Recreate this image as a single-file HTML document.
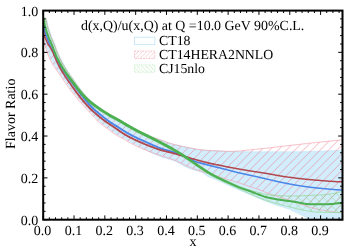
<!DOCTYPE html>
<html><head><meta charset="utf-8"><title>d/u ratio</title>
<style>html,body{margin:0;padding:0;background:#fff;}body{width:357px;height:250px;overflow:hidden;font-family:"Liberation Serif",serif;}svg{display:block;}</style>
</head><body>
<svg width="357" height="250" viewBox="0 0 357 250" style="will-change:transform;text-rendering:geometricPrecision">
<defs>
<pattern id="hr" width="8.4" height="8.4" patternUnits="userSpaceOnUse" patternTransform="translate(8.2,0)"><path d="M-1,9.4 L9.4,-1 M-1,1 L1,-1 M7.4,9.4 L9.4,7.4" stroke="#ec7088" stroke-width="0.55" fill="none"/></pattern>
<pattern id="hg" width="8.4" height="8.4" patternUnits="userSpaceOnUse"><path d="M-1,9.4 L9.4,-1 M-1,-1 L9.4,9.4" stroke="#8fd68f" stroke-width="0.55" fill="none"/></pattern>
<pattern id="lr" width="4.2" height="4.2" patternUnits="userSpaceOnUse" patternTransform="translate(1,0)"><path d="M-1,5.2 L5.2,-1 M-1,1 L1,-1 M3.2,5.2 L5.2,3.2" stroke="#f7b5c0" stroke-width="0.6" fill="none"/></pattern>
<pattern id="lg" width="4.2" height="4.2" patternUnits="userSpaceOnUse"><path d="M-1,-1 L5.2,5.2 M3.2,-1 L5.2,1 M-1,3.2 L1,5.2" stroke="#bfe9bf" stroke-width="0.6" fill="none"/><path d="M-1,5.2 L5.2,-1" stroke="#e2f6e2" stroke-width="0.5" fill="none"/></pattern>
<clipPath id="cp"><rect x="43.2" y="10.6" width="299.3" height="209.1"/></clipPath>
</defs>
<rect width="100%" height="100%" fill="#fff"/>
<g clip-path="url(#cp)">
<path d="M43.4,18.0 L44.6,18.0 L45.7,18.0 L46.9,20.2 L48.0,25.6 L49.2,29.8 L50.4,33.2 L51.5,36.3 L52.7,39.2 L53.8,41.8 L55.0,44.6 L56.1,47.7 L57.3,50.7 L58.5,53.5 L59.6,56.2 L60.8,58.7 L61.9,60.9 L63.1,63.1 L64.3,65.1 L65.4,67.1 L66.6,69.0 L67.7,70.8 L68.9,72.6 L70.0,74.3 L71.2,76.0 L72.4,77.6 L73.5,79.3 L74.7,81.0 L75.8,82.7 L77.0,84.3 L78.2,85.9 L79.3,87.5 L80.5,89.0 L81.6,90.5 L82.8,91.9 L84.0,93.4 L85.1,94.7 L86.3,96.0 L87.4,97.3 L88.6,98.5 L89.7,99.6 L90.9,100.7 L92.1,101.7 L93.2,102.6 L94.4,103.6 L95.5,104.5 L96.7,105.4 L97.9,106.3 L99.0,107.1 L100.2,107.9 L101.3,108.8 L102.5,109.6 L103.7,110.3 L104.8,111.1 L106.0,111.9 L107.1,112.6 L108.3,113.3 L109.4,114.0 L110.6,114.7 L111.8,115.4 L112.9,116.0 L114.1,116.6 L115.2,117.3 L116.4,117.9 L117.6,118.5 L118.7,119.1 L119.9,119.8 L121.0,120.4 L122.2,121.1 L123.3,121.8 L124.5,122.5 L125.7,123.2 L126.8,123.9 L128.0,124.6 L129.1,125.2 L130.3,125.9 L131.5,126.6 L132.6,127.2 L133.8,127.9 L134.9,128.5 L136.1,129.1 L137.3,129.7 L138.4,130.3 L139.6,130.9 L140.7,131.6 L141.9,132.2 L143.0,132.7 L144.2,133.3 L145.4,133.9 L146.5,134.4 L147.7,134.9 L148.8,135.4 L150.0,135.9 L151.2,136.4 L152.3,136.8 L153.5,137.3 L154.6,137.7 L155.8,138.2 L157.0,138.6 L158.1,139.0 L159.3,139.4 L160.4,139.8 L161.6,140.3 L162.7,140.7 L163.9,141.1 L165.1,141.5 L166.2,142.0 L167.4,142.4 L168.5,142.8 L169.7,143.2 L170.9,143.5 L172.0,143.9 L173.2,144.2 L174.3,144.5 L175.5,144.8 L176.6,145.1 L177.8,145.3 L179.0,145.6 L180.1,145.9 L181.3,146.1 L182.4,146.4 L183.6,146.6 L184.8,146.8 L185.9,147.1 L187.1,147.3 L188.2,147.6 L189.4,147.8 L190.6,148.0 L191.7,148.2 L192.9,148.5 L194.0,148.7 L195.2,148.9 L196.3,149.1 L197.5,149.3 L198.7,149.5 L199.8,149.6 L201.0,149.8 L202.1,149.9 L203.3,150.0 L204.5,150.2 L205.6,150.3 L206.8,150.4 L207.9,150.5 L209.1,150.5 L210.3,150.6 L211.4,150.6 L212.6,150.7 L213.7,150.7 L214.9,150.8 L216.0,150.8 L217.2,150.9 L218.4,150.9 L219.5,151.0 L220.7,151.0 L221.8,151.1 L223.0,151.1 L224.2,151.2 L225.3,151.2 L226.5,151.3 L227.6,151.3 L228.8,151.4 L229.9,151.4 L231.1,151.4 L232.3,151.5 L233.4,151.5 L234.6,151.6 L235.7,151.6 L236.9,151.6 L238.1,151.7 L239.2,151.7 L240.4,151.7 L241.5,151.7 L242.7,151.7 L243.9,151.7 L245.0,151.7 L246.2,151.7 L247.3,151.7 L248.5,151.7 L249.6,151.7 L250.8,151.7 L252.0,151.7 L253.1,151.8 L254.3,151.8 L255.4,151.8 L256.6,151.8 L257.8,151.8 L258.9,151.8 L260.1,151.8 L261.2,151.8 L262.4,151.8 L263.6,151.8 L264.7,151.8 L265.9,151.8 L267.0,151.8 L268.2,151.8 L269.3,151.8 L270.5,151.8 L271.7,151.8 L272.8,151.8 L274.0,151.8 L275.1,151.8 L276.3,151.8 L277.5,151.8 L278.6,151.8 L279.8,151.8 L280.9,151.8 L282.1,151.8 L283.2,151.8 L284.4,151.8 L285.6,151.8 L286.7,151.8 L287.9,151.8 L289.0,151.8 L290.2,151.8 L291.4,151.8 L292.5,151.8 L293.7,151.8 L294.8,151.8 L296.0,151.8 L297.2,151.8 L298.3,151.7 L299.5,151.7 L300.6,151.7 L301.8,151.7 L302.9,151.7 L304.1,151.7 L305.3,151.6 L306.4,151.6 L307.6,151.6 L308.7,151.5 L309.9,151.5 L311.1,151.5 L312.2,151.5 L313.4,151.4 L314.5,151.4 L315.7,151.3 L316.9,151.3 L318.0,151.3 L319.2,151.2 L320.3,151.2 L321.5,151.1 L322.6,151.1 L323.8,151.1 L325.0,151.0 L326.1,151.0 L327.3,150.9 L328.4,150.9 L329.6,150.8 L330.8,150.8 L331.9,150.7 L333.1,150.7 L334.2,150.6 L335.4,150.6 L336.5,150.5 L337.7,150.5 L338.9,150.4 L340.0,150.4 L341.2,150.3 L342.3,150.3 L343.5,150.2 L343.5,234.0 L342.3,233.6 L341.2,233.2 L340.0,232.7 L338.9,232.3 L337.7,231.8 L336.6,231.4 L335.4,230.9 L334.3,230.5 L333.1,230.0 L331.9,229.5 L330.8,229.0 L329.6,228.5 L328.5,228.0 L327.3,227.5 L326.2,227.0 L325.0,226.5 L323.9,226.0 L322.7,225.5 L321.6,225.0 L320.4,224.4 L319.2,223.9 L318.1,223.4 L316.9,222.8 L315.8,222.3 L314.6,221.7 L313.5,221.2 L312.3,220.6 L311.2,220.1 L310.0,219.5 L308.8,218.9 L307.7,218.3 L306.5,217.7 L305.4,217.1 L304.2,216.4 L303.1,215.8 L301.9,215.3 L300.8,214.7 L299.6,214.1 L298.4,213.6 L297.3,213.1 L296.1,212.5 L295.0,212.0 L293.8,211.4 L292.7,210.8 L291.5,210.2 L290.4,209.7 L289.2,209.1 L288.0,208.7 L286.9,208.3 L285.7,207.9 L284.6,207.6 L283.4,207.3 L282.3,206.9 L281.1,206.6 L280.0,206.3 L278.8,205.9 L277.7,205.6 L276.5,205.2 L275.3,204.8 L274.2,204.4 L273.0,203.9 L271.9,203.5 L270.7,203.1 L269.6,202.6 L268.4,202.2 L267.3,201.7 L266.1,201.3 L264.9,200.8 L263.8,200.4 L262.6,199.9 L261.5,199.4 L260.3,199.0 L259.2,198.5 L258.0,198.0 L256.9,197.6 L255.7,197.1 L254.5,196.6 L253.4,196.1 L252.2,195.6 L251.1,195.2 L249.9,194.7 L248.8,194.2 L247.6,193.7 L246.5,193.2 L245.3,192.7 L244.2,192.2 L243.0,191.7 L241.8,191.2 L240.7,190.7 L239.5,190.2 L238.4,189.7 L237.2,189.2 L236.1,188.7 L234.9,188.2 L233.8,187.7 L232.6,187.2 L231.4,186.6 L230.3,186.1 L229.1,185.6 L228.0,185.1 L226.8,184.6 L225.7,184.0 L224.5,183.5 L223.4,182.9 L222.2,182.4 L221.0,181.8 L219.9,181.3 L218.7,180.8 L217.6,180.3 L216.4,179.8 L215.3,179.3 L214.1,178.9 L213.0,178.5 L211.8,178.1 L210.7,177.7 L209.5,177.2 L208.3,176.7 L207.2,176.0 L206.0,175.2 L204.9,174.4 L203.7,173.6 L202.6,172.9 L201.4,172.2 L200.3,171.7 L199.1,171.3 L197.9,171.1 L196.8,170.8 L195.6,170.6 L194.5,170.2 L193.3,169.9 L192.2,169.5 L191.0,169.1 L189.9,168.6 L188.7,168.2 L187.5,167.7 L186.4,167.2 L185.2,166.7 L184.1,166.2 L182.9,165.6 L181.8,164.9 L180.6,164.2 L179.5,163.5 L178.3,162.9 L177.1,162.2 L176.0,161.6 L174.8,161.1 L173.7,160.7 L172.5,160.3 L171.4,159.9 L170.2,159.6 L169.1,159.2 L167.9,158.9 L166.8,158.6 L165.6,158.2 L164.4,157.9 L163.3,157.5 L162.1,157.1 L161.0,156.7 L159.8,156.3 L158.7,155.8 L157.5,155.3 L156.4,154.8 L155.2,154.3 L154.0,153.8 L152.9,153.3 L151.7,152.8 L150.6,152.2 L149.4,151.7 L148.3,151.1 L147.1,150.5 L146.0,149.9 L144.8,149.3 L143.6,148.7 L142.5,148.1 L141.3,147.5 L140.2,146.9 L139.0,146.3 L137.9,145.7 L136.7,145.1 L135.6,144.5 L134.4,143.9 L133.3,143.3 L132.1,142.6 L130.9,142.0 L129.8,141.3 L128.6,140.6 L127.5,140.0 L126.3,139.3 L125.2,138.6 L124.0,138.0 L122.9,137.4 L121.7,136.8 L120.5,136.2 L119.4,135.5 L118.2,134.8 L117.1,134.1 L115.9,133.4 L114.8,132.6 L113.6,131.9 L112.5,131.0 L111.3,130.2 L110.1,129.4 L109.0,128.5 L107.8,127.6 L106.7,126.8 L105.5,125.9 L104.4,125.0 L103.2,124.2 L102.1,123.3 L100.9,122.4 L99.8,121.4 L98.6,120.3 L97.4,119.1 L96.3,117.9 L95.1,116.6 L94.0,115.4 L92.8,114.1 L91.7,112.8 L90.5,111.6 L89.4,110.3 L88.2,109.1 L87.0,107.8 L85.9,106.6 L84.7,105.3 L83.6,104.0 L82.4,102.7 L81.3,101.4 L80.1,100.1 L79.0,98.8 L77.8,97.4 L76.6,96.1 L75.5,94.6 L74.3,93.2 L73.2,91.7 L72.0,90.2 L70.9,88.6 L69.7,86.9 L68.6,85.3 L67.4,83.7 L66.2,82.0 L65.1,80.4 L63.9,78.8 L62.8,77.1 L61.6,75.4 L60.5,73.7 L59.3,72.1 L58.2,70.5 L57.0,68.8 L55.9,67.2 L54.7,65.4 L53.5,63.6 L52.4,61.5 L51.2,59.3 L50.1,56.8 L48.9,54.0 L47.8,50.8 L46.6,47.3 L45.5,43.0 L44.3,36.7 Z" fill="#d2eefc" stroke="#c4e6f8" stroke-width="0.7"/>
<path d="M43.4,18.1 L44.6,18.1 L45.7,18.1 L46.9,23.1 L48.0,28.0 L49.2,31.7 L50.4,35.0 L51.5,38.0 L52.7,40.7 L53.8,43.4 L55.0,46.3 L56.1,49.4 L57.3,52.3 L58.5,55.1 L59.6,57.7 L60.8,60.0 L61.9,62.2 L63.1,64.3 L64.3,66.3 L65.4,68.2 L66.6,70.1 L67.7,71.9 L68.9,73.6 L70.0,75.3 L71.2,76.9 L72.4,78.6 L73.5,80.2 L74.7,81.9 L75.8,83.6 L77.0,85.2 L78.2,86.8 L79.3,88.3 L80.5,89.8 L81.6,91.3 L82.8,92.7 L84.0,94.1 L85.1,95.5 L86.3,96.7 L87.4,98.0 L88.6,99.1 L89.7,100.2 L90.9,101.3 L92.1,102.3 L93.2,103.2 L94.4,104.1 L95.5,105.0 L96.7,105.9 L97.9,106.8 L99.0,107.6 L100.2,108.4 L101.3,109.2 L102.5,110.0 L103.7,110.8 L104.8,111.6 L106.0,112.3 L107.1,113.1 L108.3,113.8 L109.4,114.5 L110.6,115.2 L111.8,115.8 L112.9,116.5 L114.1,117.1 L115.2,117.7 L116.4,118.3 L117.6,119.0 L118.7,119.6 L119.9,120.2 L121.0,120.9 L122.2,121.6 L123.3,122.3 L124.5,123.0 L125.7,123.7 L126.8,124.4 L128.0,125.0 L129.1,125.7 L130.3,126.4 L131.5,127.0 L132.6,127.7 L133.8,128.3 L134.9,128.9 L136.1,129.6 L137.3,130.2 L138.4,130.8 L139.6,131.4 L140.7,132.0 L141.9,132.6 L143.0,133.2 L144.2,133.8 L145.4,134.3 L146.5,134.9 L147.7,135.4 L148.8,135.8 L150.0,136.3 L151.2,136.7 L152.3,137.1 L153.5,137.5 L154.6,137.9 L155.8,138.3 L157.0,138.7 L158.1,139.1 L159.3,139.5 L160.4,139.9 L161.6,140.3 L162.7,140.7 L163.9,141.1 L165.1,141.5 L166.2,141.9 L167.4,142.4 L168.5,142.8 L169.7,143.2 L170.9,143.5 L172.0,143.9 L173.2,144.2 L174.3,144.5 L175.5,144.8 L176.6,145.1 L177.8,145.3 L179.0,145.6 L180.1,145.9 L181.3,146.1 L182.4,146.4 L183.6,146.6 L184.8,146.8 L185.9,147.1 L187.1,147.3 L188.2,147.6 L189.4,147.8 L190.6,148.0 L191.7,148.2 L192.9,148.5 L194.0,148.7 L195.2,148.9 L196.3,149.1 L197.5,149.3 L198.7,149.5 L199.8,149.6 L201.0,149.8 L202.1,149.9 L203.3,150.0 L204.5,150.2 L205.6,150.3 L206.8,150.4 L207.9,150.5 L209.1,150.5 L210.3,150.6 L211.4,150.6 L212.6,150.7 L213.7,150.7 L214.9,150.8 L216.0,150.8 L217.2,150.9 L218.4,151.0 L219.5,151.0 L220.7,151.1 L221.8,151.1 L223.0,151.2 L224.2,151.3 L225.3,151.3 L226.5,151.3 L227.6,151.4 L228.8,151.4 L229.9,151.4 L231.1,151.4 L232.3,151.4 L233.4,151.3 L234.6,151.3 L235.7,151.2 L236.9,151.1 L238.1,151.1 L239.2,151.0 L240.4,150.9 L241.5,150.8 L242.7,150.6 L243.9,150.5 L245.0,150.4 L246.2,150.3 L247.3,150.1 L248.5,150.0 L249.6,149.9 L250.8,149.8 L252.0,149.6 L253.1,149.5 L254.3,149.4 L255.4,149.3 L256.6,149.2 L257.8,149.1 L258.9,148.9 L260.1,148.8 L261.2,148.7 L262.4,148.6 L263.6,148.4 L264.7,148.3 L265.9,148.2 L267.0,148.1 L268.2,147.9 L269.3,147.8 L270.5,147.7 L271.7,147.5 L272.8,147.4 L274.0,147.3 L275.1,147.1 L276.3,147.0 L277.5,146.9 L278.6,146.7 L279.8,146.6 L280.9,146.5 L282.1,146.3 L283.2,146.2 L284.4,146.1 L285.6,145.9 L286.7,145.8 L287.9,145.7 L289.0,145.5 L290.2,145.4 L291.4,145.3 L292.5,145.1 L293.7,145.0 L294.8,144.9 L296.0,144.8 L297.2,144.6 L298.3,144.5 L299.5,144.4 L300.6,144.2 L301.8,144.1 L302.9,144.0 L304.1,143.8 L305.3,143.7 L306.4,143.6 L307.6,143.4 L308.7,143.3 L309.9,143.2 L311.1,143.1 L312.2,142.9 L313.4,142.8 L314.5,142.7 L315.7,142.6 L316.9,142.4 L318.0,142.3 L319.2,142.2 L320.3,142.1 L321.5,142.0 L322.6,141.8 L323.8,141.7 L325.0,141.6 L326.1,141.5 L327.3,141.4 L328.4,141.3 L329.6,141.1 L330.8,141.0 L331.9,140.9 L333.1,140.8 L334.2,140.7 L335.4,140.6 L336.5,140.5 L337.7,140.3 L338.9,140.2 L340.0,140.1 L341.2,140.0 L342.3,139.9 L343.5,139.8 L343.5,212.8 L342.3,212.7 L341.2,212.7 L340.0,212.6 L338.9,212.5 L337.7,212.4 L336.6,212.3 L335.4,212.2 L334.2,212.0 L333.1,211.9 L331.9,211.7 L330.8,211.6 L329.6,211.4 L328.4,211.2 L327.3,211.0 L326.1,210.8 L325.0,210.6 L323.8,210.4 L322.7,210.2 L321.5,210.0 L320.3,209.8 L319.2,209.6 L318.0,209.4 L316.9,209.1 L315.7,208.9 L314.5,208.6 L313.4,208.3 L312.2,208.0 L311.1,207.6 L309.9,207.3 L308.8,206.9 L307.6,206.6 L306.4,206.2 L305.3,205.8 L304.1,205.4 L303.0,205.0 L301.8,204.6 L300.6,204.2 L299.5,203.8 L298.3,203.3 L297.2,202.9 L296.0,202.5 L294.9,202.1 L293.7,201.7 L292.5,201.3 L291.4,200.9 L290.2,200.5 L289.1,200.1 L287.9,199.7 L286.7,199.3 L285.6,199.0 L284.4,198.6 L283.3,198.3 L282.1,198.0 L281.0,197.7 L279.8,197.3 L278.6,197.0 L277.5,196.6 L276.3,196.2 L275.2,195.9 L274.0,195.5 L272.8,195.1 L271.7,194.7 L270.5,194.2 L269.4,193.8 L268.2,193.4 L267.1,192.9 L265.9,192.5 L264.7,192.0 L263.6,191.4 L262.4,190.9 L261.3,190.5 L260.1,190.0 L258.9,189.6 L257.8,189.2 L256.6,188.8 L255.5,188.5 L254.3,188.1 L253.2,187.7 L252.0,187.3 L250.8,186.9 L249.7,186.6 L248.5,186.1 L247.4,185.7 L246.2,185.3 L245.0,184.9 L243.9,184.5 L242.7,184.1 L241.6,183.7 L240.4,183.3 L239.3,182.9 L238.1,182.6 L236.9,182.2 L235.8,181.9 L234.6,181.5 L233.5,181.2 L232.3,180.9 L231.1,180.5 L230.0,180.2 L228.8,179.8 L227.7,179.5 L226.5,179.1 L225.4,178.8 L224.2,178.4 L223.0,178.1 L221.9,177.7 L220.7,177.3 L219.6,176.9 L218.4,176.6 L217.2,176.2 L216.1,175.8 L214.9,175.5 L213.8,175.1 L212.6,174.8 L211.5,174.4 L210.3,174.1 L209.1,173.7 L208.0,173.4 L206.8,173.0 L205.7,172.7 L204.5,172.3 L203.3,172.0 L202.2,171.6 L201.0,171.3 L199.9,170.9 L198.7,170.5 L197.6,170.2 L196.4,169.8 L195.2,169.4 L194.1,169.0 L192.9,168.5 L191.8,168.1 L190.6,167.6 L189.4,167.2 L188.3,166.7 L187.1,166.1 L186.0,165.6 L184.8,165.0 L183.7,164.4 L182.5,163.8 L181.3,163.2 L180.2,162.7 L179.0,162.1 L177.9,161.5 L176.7,161.0 L175.5,160.5 L174.4,160.1 L173.2,159.7 L172.1,159.3 L170.9,158.9 L169.8,158.5 L168.6,158.1 L167.4,157.8 L166.3,157.4 L165.1,157.1 L164.0,156.7 L162.8,156.3 L161.6,155.9 L160.5,155.6 L159.3,155.2 L158.2,154.8 L157.0,154.4 L155.9,154.0 L154.7,153.6 L153.5,153.1 L152.4,152.7 L151.2,152.3 L150.1,151.8 L148.9,151.4 L147.7,150.9 L146.6,150.5 L145.4,150.0 L144.3,149.5 L143.1,149.0 L142.0,148.5 L140.8,148.0 L139.6,147.5 L138.5,147.0 L137.3,146.5 L136.2,145.9 L135.0,145.4 L133.8,144.8 L132.7,144.2 L131.5,143.6 L130.4,142.9 L129.2,142.3 L128.1,141.6 L126.9,140.9 L125.7,140.2 L124.6,139.6 L123.4,138.9 L122.3,138.3 L121.1,137.7 L119.9,137.1 L118.8,136.4 L117.6,135.8 L116.5,135.1 L115.3,134.3 L114.2,133.6 L113.0,132.8 L111.8,132.0 L110.7,131.1 L109.5,130.3 L108.4,129.4 L107.2,128.6 L106.0,127.7 L104.9,126.8 L103.7,126.0 L102.6,125.1 L101.4,124.2 L100.3,123.3 L99.1,122.3 L97.9,121.2 L96.8,120.1 L95.6,118.8 L94.5,117.6 L93.3,116.3 L92.1,115.0 L91.0,113.8 L89.8,112.5 L88.7,111.3 L87.5,110.0 L86.4,108.8 L85.2,107.5 L84.0,106.2 L82.9,104.9 L81.7,103.6 L80.6,102.3 L79.4,101.0 L78.2,99.7 L77.1,98.3 L75.9,97.0 L74.8,95.5 L73.6,94.1 L72.5,92.6 L71.3,91.1 L70.1,89.5 L69.0,87.8 L67.8,86.2 L66.7,84.6 L65.5,82.9 L64.3,81.3 L63.2,79.6 L62.0,78.0 L60.9,76.3 L59.7,74.6 L58.6,72.9 L57.4,71.3 L56.2,69.7 L55.1,68.0 L53.9,66.3 L52.8,64.4 L51.6,62.4 L50.4,60.1 L49.3,57.6 L48.1,54.8 L47.0,51.7 L45.8,48.1 L44.7,43.9 L43.5,37.5 Z" fill="url(#hr)" stroke="#f2a0ae" stroke-width="0.7"/>
<path d="M43.4,18.1 L44.6,18.1 L45.7,19.3 L46.9,25.0 L48.0,29.4 L49.2,33.0 L50.4,36.1 L51.5,39.0 L52.7,41.7 L53.8,44.4 L55.0,47.4 L56.1,50.5 L57.3,53.3 L58.5,56.1 L59.6,58.6 L60.8,60.8 L61.9,63.0 L63.1,65.0 L64.3,66.9 L65.4,68.8 L66.6,70.6 L67.7,72.3 L68.9,74.0 L70.0,75.6 L71.2,77.2 L72.4,78.8 L73.5,80.5 L74.7,82.1 L75.8,83.7 L77.0,85.3 L78.2,86.8 L79.3,88.3 L80.5,89.8 L81.6,91.2 L82.8,92.6 L84.0,94.0 L85.1,95.3 L86.3,96.6 L87.4,97.7 L88.6,98.9 L89.7,99.9 L90.9,101.0 L92.1,101.9 L93.2,102.9 L94.4,103.8 L95.5,104.7 L96.7,105.5 L97.9,106.4 L99.0,107.2 L100.2,108.0 L101.3,108.8 L102.5,109.6 L103.7,110.3 L104.8,111.1 L106.0,111.8 L107.1,112.6 L108.3,113.3 L109.4,114.0 L110.6,114.7 L111.8,115.4 L112.9,116.0 L114.1,116.6 L115.2,117.3 L116.4,117.9 L117.6,118.5 L118.7,119.1 L119.9,119.8 L121.0,120.4 L122.2,121.1 L123.3,121.8 L124.5,122.5 L125.7,123.2 L126.8,123.9 L128.0,124.6 L129.1,125.2 L130.3,125.9 L131.5,126.6 L132.6,127.2 L133.8,127.9 L134.9,128.5 L136.1,129.1 L137.3,129.7 L138.4,130.3 L139.6,130.9 L140.7,131.5 L141.9,132.1 L143.0,132.6 L144.2,133.2 L145.4,133.8 L146.5,134.3 L147.7,134.9 L148.8,135.5 L150.0,136.1 L151.2,136.7 L152.3,137.2 L153.5,137.8 L154.6,138.4 L155.8,139.0 L157.0,139.6 L158.1,140.2 L159.3,140.8 L160.4,141.4 L161.6,142.0 L162.7,142.6 L163.9,143.2 L165.1,143.8 L166.2,144.4 L167.4,145.1 L168.5,145.7 L169.7,146.3 L170.9,147.0 L172.0,147.6 L173.2,148.3 L174.3,149.0 L175.5,149.6 L176.6,150.3 L177.8,151.0 L179.0,151.7 L180.1,152.4 L181.3,153.2 L182.4,153.9 L183.6,154.6 L184.8,155.4 L185.9,156.1 L187.1,156.9 L188.2,157.7 L189.4,158.5 L190.6,159.3 L191.7,160.1 L192.9,160.9 L194.0,161.7 L195.2,162.5 L196.3,163.3 L197.5,164.1 L198.7,164.8 L199.8,165.6 L201.0,166.4 L202.1,167.2 L203.3,168.0 L204.5,168.8 L205.6,169.6 L206.8,170.3 L207.9,171.1 L209.1,171.8 L210.3,172.5 L211.4,173.2 L212.6,173.8 L213.7,174.4 L214.9,175.0 L216.0,175.6 L217.2,176.2 L218.4,176.8 L219.5,177.3 L220.7,177.9 L221.8,178.4 L223.0,179.0 L224.2,179.5 L225.3,180.1 L226.5,180.6 L227.6,181.1 L228.8,181.7 L229.9,182.2 L231.1,182.7 L232.3,183.3 L233.4,183.8 L234.6,184.3 L235.7,184.9 L236.9,185.4 L238.1,185.9 L239.2,186.3 L240.4,186.8 L241.5,187.2 L242.7,187.7 L243.9,188.1 L245.0,188.5 L246.2,188.9 L247.3,189.3 L248.5,189.7 L249.6,190.0 L250.8,190.4 L252.0,190.7 L253.1,191.0 L254.3,191.3 L255.4,191.6 L256.6,191.9 L257.8,192.3 L258.9,192.6 L260.1,192.9 L261.2,193.2 L262.4,193.5 L263.6,193.8 L264.7,194.1 L265.9,194.3 L267.0,194.4 L268.2,194.6 L269.3,194.7 L270.5,194.8 L271.7,194.9 L272.8,195.0 L274.0,195.1 L275.1,195.2 L276.3,195.3 L277.5,195.4 L278.6,195.5 L279.8,195.6 L280.9,195.7 L282.1,195.7 L283.2,195.8 L284.4,195.9 L285.6,195.9 L286.7,196.0 L287.9,196.0 L289.0,196.0 L290.2,196.0 L291.4,196.0 L292.5,196.0 L293.7,196.0 L294.8,196.0 L296.0,196.0 L297.2,196.0 L298.3,195.9 L299.5,195.9 L300.6,195.8 L301.8,195.8 L302.9,195.7 L304.1,195.6 L305.3,195.6 L306.4,195.5 L307.6,195.4 L308.7,195.4 L309.9,195.3 L311.1,195.3 L312.2,195.2 L313.4,195.2 L314.5,195.2 L315.7,195.1 L316.9,195.1 L318.0,195.0 L319.2,195.0 L320.3,194.9 L321.5,194.8 L322.6,194.8 L323.8,194.7 L325.0,194.6 L326.1,194.5 L327.3,194.4 L328.4,194.2 L329.6,194.1 L330.8,193.9 L331.9,193.7 L333.1,193.6 L334.2,193.3 L335.4,193.1 L336.5,192.9 L337.7,192.6 L338.9,192.3 L340.0,192.0 L341.2,191.7 L342.3,191.4 L343.5,191.0 L343.5,212.6 L342.3,212.6 L341.2,212.6 L340.0,212.6 L338.9,212.6 L337.7,212.6 L336.5,212.6 L335.4,212.6 L334.2,212.5 L333.0,212.5 L331.9,212.5 L330.7,212.5 L329.6,212.5 L328.4,212.4 L327.2,212.4 L326.1,212.4 L324.9,212.4 L323.7,212.3 L322.6,212.3 L321.4,212.3 L320.3,212.2 L319.1,212.2 L317.9,212.2 L316.8,212.1 L315.6,212.0 L314.4,211.9 L313.3,211.8 L312.1,211.6 L311.0,211.5 L309.8,211.3 L308.6,211.1 L307.5,210.9 L306.3,210.7 L305.2,210.5 L304.0,210.3 L302.8,210.1 L301.7,209.9 L300.5,209.6 L299.3,209.4 L298.2,209.1 L297.0,208.8 L295.9,208.5 L294.7,208.2 L293.5,207.9 L292.4,207.6 L291.2,207.3 L290.0,207.0 L288.9,206.7 L287.7,206.4 L286.6,206.1 L285.4,205.8 L284.2,205.5 L283.1,205.2 L281.9,205.0 L280.7,204.7 L279.6,204.4 L278.4,204.1 L277.3,203.8 L276.1,203.4 L274.9,203.1 L273.8,202.8 L272.6,202.5 L271.4,202.1 L270.3,201.8 L269.1,201.4 L268.0,201.1 L266.8,200.7 L265.6,200.3 L264.5,199.9 L263.3,199.5 L262.2,199.0 L261.0,198.5 L259.8,198.0 L258.7,197.6 L257.5,197.1 L256.3,196.6 L255.2,196.1 L254.0,195.6 L252.9,195.1 L251.7,194.6 L250.5,194.0 L249.4,193.5 L248.2,193.0 L247.0,192.4 L245.9,191.9 L244.7,191.4 L243.6,190.8 L242.4,190.3 L241.2,189.8 L240.1,189.2 L238.9,188.7 L237.7,188.2 L236.6,187.7 L235.4,187.1 L234.3,186.6 L233.1,186.1 L231.9,185.6 L230.8,185.1 L229.6,184.6 L228.5,184.0 L227.3,183.5 L226.1,183.0 L225.0,182.4 L223.8,181.9 L222.6,181.4 L221.5,180.8 L220.3,180.2 L219.2,179.7 L218.0,179.1 L216.8,178.6 L215.7,178.0 L214.5,177.4 L213.3,176.8 L212.2,176.2 L211.0,175.6 L209.9,174.9 L208.7,174.2 L207.5,173.5 L206.4,172.8 L205.2,172.0 L204.0,171.3 L202.9,170.5 L201.7,169.7 L200.6,168.9 L199.4,168.1 L198.2,167.3 L197.1,166.5 L195.9,165.8 L194.8,165.0 L193.6,164.2 L192.4,163.4 L191.3,162.6 L190.1,161.8 L188.9,161.0 L187.8,160.2 L186.6,159.4 L185.5,158.6 L184.3,157.8 L183.1,157.0 L182.0,156.3 L180.8,155.6 L179.6,154.8 L178.5,154.1 L177.3,153.4 L176.2,152.7 L175.0,152.0 L173.8,151.3 L172.7,150.7 L171.5,150.0 L170.3,149.3 L169.2,148.7 L168.0,148.0 L166.9,147.4 L165.7,146.8 L164.5,146.1 L163.4,145.5 L162.2,144.9 L161.1,144.3 L159.9,143.7 L158.7,143.1 L157.6,142.5 L156.4,141.9 L155.2,141.3 L154.1,140.7 L152.9,140.1 L151.8,139.5 L150.6,139.0 L149.4,138.4 L148.3,137.8 L147.1,137.2 L145.9,136.6 L144.8,136.0 L143.6,135.5 L142.5,134.9 L141.3,134.3 L140.1,133.8 L139.0,133.2 L137.8,132.6 L136.6,132.0 L135.5,131.4 L134.3,130.8 L133.2,130.1 L132.0,129.5 L130.8,128.9 L129.7,128.2 L128.5,127.5 L127.3,126.9 L126.2,126.2 L125.0,125.5 L123.9,124.8 L122.7,124.1 L121.5,123.4 L120.4,122.7 L119.2,122.0 L118.1,121.4 L116.9,120.8 L115.7,120.1 L114.6,119.5 L113.4,118.9 L112.2,118.3 L111.1,117.6 L109.9,117.0 L108.8,116.3 L107.6,115.6 L106.4,114.9 L105.3,114.1 L104.1,113.4 L102.9,112.6 L101.8,111.9 L100.6,111.1 L99.5,110.3 L98.3,109.5 L97.1,108.7 L96.0,107.9 L94.8,107.1 L93.6,106.2 L92.5,105.4 L91.3,104.5 L90.2,103.6 L89.0,102.6 L87.8,101.6 L86.7,100.5 L85.5,99.4 L84.4,98.2 L83.2,97.0 L82.0,95.7 L80.9,94.4 L79.7,93.0 L78.5,91.6 L77.4,90.2 L76.2,88.7 L75.1,87.2 L73.9,85.7 L72.7,84.1 L71.6,82.5 L70.4,80.9 L69.2,79.3 L68.1,77.7 L66.9,76.1 L65.8,74.5 L64.6,72.8 L63.4,71.0 L62.3,69.2 L61.1,67.4 L59.9,65.4 L58.8,63.4 L57.6,61.3 L56.5,58.9 L55.3,56.3 L54.1,53.5 L53.0,50.6 L51.8,47.5 L50.7,44.6 L49.5,41.9 L48.3,39.1 L47.2,36.2 L46.0,32.9 L44.8,29.2 L43.7,24.4 L42.5,18.7 Z" fill="url(#hg)" stroke="#8fd68f" stroke-width="0.7"/>
<path d="M42.8,25.1 L43.5,29.9 L44.3,32.4 L45.0,34.5 L45.8,36.7 L46.6,38.8 L47.3,40.9 L48.1,42.8 L48.8,44.6 L49.6,46.3 L50.3,47.9 L51.1,49.4 L51.8,50.8 L52.6,52.3 L53.3,53.8 L54.1,55.5 L54.8,57.3 L55.6,59.0 L56.3,60.5 L57.1,61.9 L57.8,63.2 L58.6,64.5 L59.3,65.7 L60.1,66.9 L60.9,68.1 L61.6,69.3 L62.3,70.4 L63.1,71.6 L63.8,72.7 L64.6,73.8 L65.4,74.9 L66.1,76.0 L66.9,77.1 L67.6,78.2 L68.4,79.2 L69.1,80.3 L69.9,81.3 L70.6,82.3 L71.4,83.3 L72.1,84.3 L72.9,85.3 L73.6,86.3 L74.4,87.3 L75.1,88.3 L75.8,89.3 L76.6,90.3 L77.3,91.2 L78.1,92.2 L78.8,93.2 L79.6,94.2 L80.3,95.2 L81.1,96.1 L81.9,97.1 L82.6,98.0 L83.4,98.9 L84.1,99.9 L84.9,100.8 L85.6,101.7 L86.4,102.6 L87.1,103.5 L87.9,104.4 L88.7,105.3 L89.4,106.1 L90.2,106.9 L91.0,107.7 L91.7,108.4 L92.5,109.2 L93.2,109.9 L94.0,110.5 L94.8,111.2 L95.5,111.9 L96.3,112.5 L97.0,113.2 L97.8,113.8 L98.5,114.4 L99.3,115.0 L100.0,115.6 L100.8,116.2 L101.6,116.8 L102.3,117.4 L103.1,118.0 L103.8,118.6 L104.6,119.2 L105.3,119.8 L106.1,120.4 L106.8,121.0 L107.6,121.6 L108.4,122.1 L109.1,122.6 L109.9,123.2 L110.7,123.7 L111.4,124.1 L112.2,124.6 L112.9,125.1 L113.7,125.5 L114.4,125.9 L115.2,126.4 L115.9,126.9 L116.7,127.3 L117.4,127.8 L118.2,128.3 L118.9,128.8 L119.7,129.3 L120.4,129.8 L121.2,130.3 L121.9,130.8 L122.7,131.3 L123.4,131.8 L124.2,132.2 L125.0,132.7 L125.7,133.1 L126.5,133.6 L127.2,134.0 L128.0,134.4 L128.8,134.8 L129.5,135.3 L130.3,135.7 L131.0,136.1 L131.8,136.4 L132.5,136.8 L133.3,137.2 L134.1,137.6 L134.8,138.0 L135.6,138.3 L136.3,138.7 L137.1,139.1 L137.8,139.4 L138.6,139.8 L139.4,140.1 L140.1,140.4 L140.9,140.8 L141.6,141.1 L142.4,141.4 L143.1,141.8 L143.9,142.1 L144.6,142.4 L145.4,142.7 L146.1,143.1 L146.9,143.4 L147.6,143.7 L148.4,144.0 L149.1,144.4 L149.9,144.7 L150.6,145.1 L151.4,145.4 L152.1,145.7 L152.9,146.1 L153.7,146.4 L154.4,146.7 L155.2,147.1 L155.9,147.4 L156.7,147.7 L157.4,148.0 L158.2,148.3 L159.0,148.6 L159.7,148.9 L160.5,149.2 L161.3,149.5 L162.0,149.7 L162.8,150.0 L163.5,150.2 L164.3,150.4 L165.1,150.6 L165.8,150.8 L166.6,151.0 L167.3,151.2 L168.1,151.4 L168.8,151.6 L169.6,151.9 L170.3,152.1 L171.1,152.3 L171.8,152.5 L172.5,152.8 L173.3,153.0 L174.0,153.3 L174.8,153.5 L175.5,153.8 L176.3,154.1 L177.0,154.3 L177.8,154.6 L178.5,154.9 L179.3,155.2 L180.0,155.4 L180.8,155.7 L181.5,156.0 L182.3,156.3 L183.0,156.6 L183.8,156.9 L184.5,157.2 L185.3,157.5 L186.0,157.9 L186.7,158.2 L187.5,158.6 L188.2,159.0 L189.0,159.3 L189.7,159.7 L190.5,160.1 L191.2,160.5 L192.0,160.9 L192.8,161.2 L193.5,161.6 L194.3,161.9 L195.1,162.2 L195.8,162.5 L196.6,162.8 L197.4,163.0 L198.1,163.3 L198.9,163.5 L199.7,163.7 L200.4,163.9 L201.2,164.2 L201.9,164.4 L202.7,164.5 L203.4,164.7 L204.2,164.9 L205.0,165.1 L205.7,165.3 L206.5,165.5 L207.2,165.7 L208.0,165.8 L208.7,166.0 L209.5,166.2 L210.2,166.4 L211.0,166.6 L211.7,166.8 L212.5,167.0 L213.2,167.2 L214.0,167.3 L214.7,167.5 L215.5,167.7 L216.2,167.9 L217.0,168.1 L217.7,168.3 L218.5,168.5 L219.2,168.6 L220.0,168.8 L220.8,169.0 L221.5,169.2 L222.3,169.4 L223.0,169.6 L223.8,169.8 L224.5,169.9 L225.3,170.1 L226.0,170.3 L226.8,170.5 L227.5,170.7 L228.3,170.9 L229.0,171.1 L229.8,171.3 L230.5,171.5 L231.3,171.7 L232.0,171.9 L232.8,172.1 L233.5,172.3 L234.3,172.5 L235.0,172.7 L235.8,172.8 L236.5,173.0 L237.3,173.2 L238.1,173.4 L238.8,173.6 L239.6,173.8 L240.3,174.0 L241.1,174.1 L241.8,174.3 L242.6,174.5 L243.3,174.6 L244.1,174.8 L244.8,174.9 L245.6,175.1 L246.4,175.3 L247.1,175.4 L247.9,175.6 L248.6,175.7 L249.4,175.9 L250.1,176.0 L250.9,176.2 L251.6,176.3 L252.4,176.5 L253.1,176.7 L253.9,176.8 L254.6,177.0 L255.4,177.2 L256.1,177.3 L256.9,177.5 L257.6,177.7 L258.4,177.8 L259.1,178.0 L259.9,178.2 L260.6,178.4 L261.4,178.5 L262.1,178.7 L262.9,178.9 L263.6,179.1 L264.4,179.3 L265.1,179.4 L265.9,179.6 L266.6,179.8 L267.4,180.0 L268.1,180.1 L268.9,180.3 L269.6,180.5 L270.4,180.7 L271.2,180.8 L271.9,181.0 L272.7,181.2 L273.4,181.3 L274.2,181.5 L274.9,181.7 L275.7,181.9 L276.4,182.0 L277.2,182.2 L277.9,182.4 L278.7,182.5 L279.4,182.7 L280.2,182.9 L280.9,183.0 L281.7,183.2 L282.4,183.3 L283.2,183.5 L284.0,183.7 L284.7,183.8 L285.5,184.0 L286.2,184.1 L287.0,184.3 L287.7,184.4 L288.5,184.5 L289.2,184.7 L290.0,184.8 L290.7,185.0 L291.5,185.1 L292.2,185.3 L293.0,185.4 L293.7,185.5 L294.5,185.7 L295.3,185.8 L296.0,185.9 L296.8,186.0 L297.5,186.2 L298.3,186.3 L299.0,186.4 L299.8,186.5 L300.5,186.6 L301.3,186.8 L302.0,186.9 L302.8,187.0 L303.5,187.1 L304.3,187.2 L305.1,187.3 L305.8,187.4 L306.6,187.5 L307.3,187.6 L308.1,187.7 L308.8,187.8 L309.6,187.9 L310.3,188.0 L311.1,188.1 L311.8,188.2 L312.6,188.2 L313.3,188.3 L314.1,188.4 L314.8,188.5 L315.6,188.6 L316.4,188.7 L317.1,188.7 L317.9,188.8 L318.6,188.9 L319.4,189.0 L320.1,189.1 L320.9,189.1 L321.6,189.2 L322.4,189.3 L323.1,189.3 L323.9,189.4 L324.6,189.5 L325.4,189.6 L326.1,189.6 L326.9,189.7 L327.6,189.8 L328.4,189.8 L329.2,189.9 L329.9,189.9 L330.7,190.0 L331.4,190.1 L332.2,190.1 L332.9,190.2 L333.7,190.2 L334.4,190.3 L335.2,190.4 L335.9,190.4 L336.7,190.5 L337.4,190.5 L338.2,190.6 L338.9,190.6 L339.7,190.7 L340.4,190.7 L341.2,190.8 L341.9,190.9 L342.7,190.9 L343.5,190.9 L343.5,189.5 L342.8,189.4 L342.0,189.4 L341.3,189.3 L340.5,189.3 L339.8,189.2 L339.0,189.1 L338.3,189.1 L337.5,189.0 L336.8,189.0 L336.0,188.9 L335.3,188.9 L334.5,188.8 L333.8,188.8 L333.0,188.7 L332.3,188.6 L331.5,188.6 L330.8,188.5 L330.0,188.4 L329.3,188.4 L328.5,188.3 L327.8,188.3 L327.0,188.2 L326.3,188.1 L325.5,188.1 L324.8,188.0 L324.0,187.9 L323.3,187.9 L322.5,187.8 L321.8,187.7 L321.0,187.6 L320.3,187.6 L319.5,187.5 L318.8,187.4 L318.0,187.3 L317.3,187.3 L316.5,187.2 L315.8,187.1 L315.0,187.0 L314.3,186.9 L313.5,186.8 L312.8,186.8 L312.0,186.7 L311.3,186.6 L310.5,186.5 L309.8,186.4 L309.0,186.3 L308.3,186.2 L307.5,186.1 L306.8,186.0 L306.0,185.9 L305.3,185.8 L304.5,185.7 L303.8,185.6 L303.0,185.5 L302.3,185.4 L301.5,185.3 L300.8,185.2 L300.0,185.0 L299.3,184.9 L298.5,184.8 L297.8,184.7 L297.0,184.6 L296.3,184.4 L295.5,184.3 L294.8,184.2 L294.0,184.0 L293.3,183.9 L292.5,183.8 L291.8,183.6 L291.0,183.5 L290.3,183.4 L289.5,183.2 L288.8,183.1 L288.0,182.9 L287.3,182.8 L286.5,182.6 L285.8,182.5 L285.0,182.3 L284.3,182.2 L283.5,182.0 L282.8,181.9 L282.0,181.7 L281.3,181.6 L280.5,181.4 L279.8,181.2 L279.0,181.1 L278.2,180.9 L277.5,180.7 L276.7,180.6 L276.0,180.4 L275.2,180.2 L274.5,180.1 L273.7,179.9 L273.0,179.7 L272.2,179.5 L271.5,179.4 L270.7,179.2 L270.0,179.0 L269.2,178.9 L268.5,178.7 L267.7,178.5 L267.0,178.3 L266.2,178.2 L265.5,178.0 L264.7,177.8 L264.0,177.6 L263.2,177.4 L262.5,177.3 L261.7,177.1 L261.0,176.9 L260.2,176.7 L259.5,176.6 L258.7,176.4 L258.0,176.2 L257.2,176.0 L256.4,175.9 L255.7,175.7 L254.9,175.5 L254.2,175.4 L253.4,175.2 L252.7,175.0 L251.9,174.9 L251.2,174.7 L250.4,174.6 L249.7,174.4 L248.9,174.2 L248.2,174.1 L247.4,173.9 L246.7,173.8 L245.9,173.6 L245.2,173.5 L244.4,173.3 L243.7,173.1 L242.9,173.0 L242.2,172.8 L241.4,172.6 L240.7,172.5 L239.9,172.3 L239.2,172.1 L238.4,171.9 L237.7,171.7 L236.9,171.5 L236.2,171.4 L235.4,171.2 L234.7,171.0 L233.9,170.8 L233.2,170.6 L232.4,170.4 L231.7,170.2 L230.9,169.9 L230.2,169.8 L229.4,169.6 L228.7,169.4 L227.9,169.2 L227.2,169.0 L226.4,168.8 L225.6,168.6 L224.9,168.4 L224.1,168.2 L223.4,168.0 L222.6,167.8 L221.9,167.7 L221.1,167.5 L220.4,167.3 L219.6,167.1 L218.9,166.9 L218.1,166.7 L217.4,166.5 L216.6,166.3 L215.9,166.2 L215.1,166.0 L214.4,165.8 L213.6,165.6 L212.9,165.4 L212.1,165.2 L211.4,165.0 L210.6,164.8 L209.9,164.6 L209.1,164.4 L208.4,164.2 L207.6,164.1 L206.9,163.9 L206.1,163.7 L205.4,163.5 L204.6,163.3 L203.9,163.1 L203.1,162.9 L202.4,162.7 L201.6,162.5 L200.9,162.3 L200.1,162.1 L199.4,161.9 L198.6,161.7 L197.9,161.4 L197.1,161.2 L196.4,161.0 L195.7,160.7 L195.0,160.4 L194.2,160.1 L193.5,159.7 L192.7,159.4 L192.0,159.0 L191.3,158.6 L190.5,158.2 L189.8,157.8 L189.0,157.4 L188.2,157.1 L187.5,156.7 L186.7,156.3 L185.9,156.0 L185.2,155.6 L184.4,155.3 L183.7,155.0 L182.9,154.7 L182.2,154.4 L181.4,154.1 L180.7,153.8 L179.9,153.5 L179.1,153.2 L178.4,153.0 L177.6,152.7 L176.9,152.4 L176.1,152.1 L175.4,151.9 L174.6,151.6 L173.9,151.4 L173.1,151.1 L172.3,150.9 L171.6,150.6 L170.8,150.4 L170.1,150.2 L169.3,149.9 L168.5,149.7 L167.8,149.5 L167.0,149.3 L166.3,149.1 L165.5,148.9 L164.8,148.7 L164.1,148.5 L163.3,148.2 L162.6,148.0 L161.8,147.8 L161.1,147.5 L160.4,147.2 L159.6,147.0 L158.9,146.7 L158.1,146.4 L157.4,146.1 L156.6,145.7 L155.9,145.4 L155.1,145.1 L154.4,144.8 L153.6,144.4 L152.9,144.1 L152.1,143.7 L151.4,143.4 L150.6,143.0 L149.9,142.7 L149.1,142.4 L148.4,142.0 L147.6,141.7 L146.9,141.4 L146.1,141.0 L145.4,140.7 L144.6,140.4 L143.9,140.1 L143.1,139.7 L142.4,139.4 L141.6,139.1 L140.9,138.7 L140.1,138.4 L139.4,138.1 L138.6,137.7 L137.9,137.4 L137.1,137.0 L136.4,136.6 L135.6,136.3 L134.9,135.9 L134.2,135.5 L133.4,135.2 L132.7,134.8 L131.9,134.4 L131.2,134.0 L130.4,133.6 L129.7,133.2 L128.9,132.8 L128.2,132.3 L127.4,131.9 L126.7,131.5 L125.9,131.1 L125.2,130.6 L124.5,130.2 L123.7,129.7 L123.0,129.2 L122.2,128.7 L121.5,128.2 L120.7,127.7 L120.0,127.2 L119.2,126.7 L118.5,126.2 L117.7,125.7 L116.9,125.2 L116.2,124.8 L115.4,124.3 L114.7,123.9 L113.9,123.4 L113.2,123.0 L112.4,122.5 L111.7,122.1 L110.9,121.6 L110.2,121.1 L109.5,120.6 L108.7,120.0 L108.0,119.5 L107.2,118.9 L106.5,118.3 L105.7,117.8 L105.0,117.2 L104.2,116.6 L103.5,116.0 L102.7,115.4 L102.0,114.8 L101.2,114.1 L100.5,113.5 L99.7,112.9 L99.0,112.3 L98.2,111.7 L97.5,111.1 L96.8,110.4 L96.0,109.8 L95.3,109.1 L94.5,108.5 L93.8,107.8 L93.0,107.1 L92.3,106.3 L91.5,105.6 L90.8,104.8 L90.1,104.0 L89.3,103.2 L88.6,102.3 L87.8,101.4 L87.1,100.5 L86.3,99.6 L85.6,98.7 L84.8,97.7 L84.1,96.8 L83.3,95.9 L82.6,94.9 L81.8,94.0 L81.1,93.0 L80.3,92.1 L79.6,91.1 L78.8,90.1 L78.1,89.1 L77.3,88.2 L76.6,87.2 L75.8,86.2 L75.1,85.2 L74.3,84.2 L73.5,83.3 L72.8,82.3 L72.0,81.3 L71.3,80.2 L70.5,79.2 L69.8,78.2 L69.0,77.1 L68.3,76.1 L67.5,75.0 L66.8,74.0 L66.0,72.9 L65.3,71.8 L64.5,70.7 L63.7,69.5 L63.0,68.4 L62.2,67.2 L61.5,66.1 L60.7,64.9 L60.0,63.7 L59.2,62.4 L58.5,61.1 L57.7,59.8 L57.0,58.3 L56.3,56.7 L55.5,54.9 L54.7,53.2 L54.0,51.6 L53.2,50.1 L52.4,48.7 L51.7,47.2 L50.9,45.7 L50.2,44.0 L49.5,42.2 L48.7,40.3 L48.0,38.3 L47.2,36.2 L46.5,34.0 L45.7,31.9 L45.0,29.6 L44.2,24.9 Z" fill="#4a86e8"/>
<path d="M42.8,31.1 L43.5,36.0 L44.3,38.0 L45.1,39.3 L45.8,40.9 L46.6,43.0 L47.4,44.6 L48.1,45.7 L48.9,46.8 L49.6,47.9 L50.4,49.1 L51.1,50.4 L51.8,51.9 L52.6,53.6 L53.3,55.5 L54.1,57.3 L54.8,59.0 L55.6,60.8 L56.3,62.5 L57.1,64.1 L57.8,65.6 L58.6,67.0 L59.3,68.4 L60.1,69.7 L60.8,71.0 L61.6,72.2 L62.3,73.4 L63.1,74.6 L63.8,75.8 L64.6,77.0 L65.3,78.1 L66.1,79.2 L66.8,80.3 L67.6,81.4 L68.3,82.5 L69.1,83.6 L69.8,84.6 L70.6,85.7 L71.3,86.7 L72.1,87.8 L72.8,88.9 L73.6,89.9 L74.3,91.0 L75.1,92.0 L75.8,93.0 L76.6,94.0 L77.3,95.0 L78.1,96.0 L78.8,97.0 L79.6,97.9 L80.4,98.9 L81.1,99.8 L81.9,100.7 L82.6,101.7 L83.4,102.5 L84.1,103.4 L84.9,104.3 L85.6,105.1 L86.4,106.0 L87.2,106.8 L87.9,107.6 L88.7,108.4 L89.4,109.2 L90.2,110.0 L91.0,110.7 L91.7,111.4 L92.5,112.1 L93.2,112.8 L94.0,113.5 L94.8,114.1 L95.5,114.8 L96.3,115.4 L97.0,116.0 L97.8,116.7 L98.5,117.3 L99.3,117.9 L100.1,118.5 L100.8,119.1 L101.6,119.7 L102.3,120.2 L103.1,120.8 L103.8,121.4 L104.6,121.9 L105.4,122.5 L106.1,123.0 L106.9,123.5 L107.6,124.0 L108.4,124.6 L109.1,125.1 L109.9,125.6 L110.6,126.1 L111.4,126.6 L112.1,127.1 L112.9,127.6 L113.6,128.1 L114.4,128.6 L115.1,129.1 L115.9,129.6 L116.6,130.2 L117.4,130.7 L118.1,131.2 L118.9,131.7 L119.7,132.3 L120.4,132.8 L121.2,133.3 L121.9,133.8 L122.7,134.3 L123.5,134.8 L124.2,135.2 L125.0,135.7 L125.7,136.1 L126.5,136.6 L127.3,137.0 L128.0,137.4 L128.8,137.8 L129.5,138.2 L130.3,138.6 L131.0,139.0 L131.8,139.3 L132.6,139.7 L133.3,140.1 L134.1,140.4 L134.8,140.8 L135.6,141.1 L136.3,141.5 L137.1,141.8 L137.9,142.2 L138.6,142.5 L139.4,142.9 L140.1,143.2 L140.9,143.5 L141.6,143.8 L142.4,144.1 L143.1,144.5 L143.9,144.8 L144.7,145.1 L145.4,145.4 L146.2,145.7 L146.9,146.0 L147.7,146.3 L148.4,146.6 L149.2,146.9 L149.9,147.2 L150.7,147.4 L151.4,147.7 L152.2,148.0 L153.0,148.3 L153.7,148.6 L154.5,148.9 L155.2,149.1 L156.0,149.4 L156.7,149.7 L157.5,150.0 L158.2,150.2 L159.0,150.5 L159.8,150.7 L160.5,150.9 L161.3,151.2 L162.1,151.4 L162.8,151.6 L163.6,151.8 L164.3,152.0 L165.1,152.1 L165.9,152.3 L166.6,152.5 L167.4,152.7 L168.1,152.9 L168.9,153.0 L169.6,153.2 L170.4,153.4 L171.1,153.6 L171.8,153.8 L172.6,154.0 L173.3,154.2 L174.1,154.4 L174.8,154.6 L175.6,154.8 L176.3,155.0 L177.1,155.2 L177.8,155.5 L178.6,155.7 L179.4,155.9 L180.1,156.1 L180.9,156.3 L181.6,156.5 L182.4,156.7 L183.1,157.0 L183.9,157.2 L184.6,157.4 L185.4,157.6 L186.1,157.8 L186.9,158.0 L187.6,158.2 L188.4,158.4 L189.1,158.7 L189.9,158.9 L190.6,159.1 L191.4,159.3 L192.1,159.5 L192.9,159.7 L193.6,159.9 L194.4,160.1 L195.2,160.3 L195.9,160.6 L196.7,160.8 L197.4,161.0 L198.2,161.2 L198.9,161.4 L199.7,161.6 L200.4,161.8 L201.2,162.0 L201.9,162.2 L202.7,162.4 L203.4,162.6 L204.2,162.8 L204.9,162.9 L205.7,163.1 L206.5,163.3 L207.2,163.5 L208.0,163.7 L208.7,163.9 L209.5,164.0 L210.2,164.2 L211.0,164.4 L211.8,164.6 L212.5,164.7 L213.3,164.9 L214.0,165.0 L214.8,165.2 L215.5,165.3 L216.3,165.4 L217.0,165.6 L217.8,165.7 L218.5,165.9 L219.3,166.0 L220.0,166.1 L220.8,166.3 L221.5,166.4 L222.3,166.6 L223.0,166.7 L223.8,166.9 L224.5,167.1 L225.3,167.2 L226.0,167.4 L226.8,167.6 L227.6,167.7 L228.3,167.9 L229.1,168.0 L229.8,168.2 L230.6,168.3 L231.3,168.4 L232.1,168.6 L232.8,168.7 L233.6,168.8 L234.3,169.0 L235.1,169.1 L235.8,169.3 L236.6,169.4 L237.4,169.5 L238.1,169.6 L238.9,169.8 L239.6,169.9 L240.4,170.0 L241.1,170.2 L241.9,170.3 L242.6,170.4 L243.4,170.6 L244.1,170.7 L244.9,170.8 L245.6,170.9 L246.4,171.1 L247.1,171.2 L247.9,171.3 L248.6,171.4 L249.4,171.6 L250.1,171.7 L250.9,171.8 L251.7,171.9 L252.4,172.0 L253.2,172.1 L253.9,172.3 L254.7,172.4 L255.4,172.5 L256.2,172.6 L256.9,172.7 L257.7,172.8 L258.4,173.0 L259.2,173.1 L259.9,173.2 L260.7,173.3 L261.4,173.4 L262.2,173.5 L262.9,173.6 L263.7,173.8 L264.4,173.9 L265.2,174.0 L265.9,174.1 L266.7,174.2 L267.4,174.4 L268.2,174.5 L268.9,174.6 L269.7,174.8 L270.4,174.9 L271.2,175.0 L271.9,175.2 L272.7,175.3 L273.4,175.4 L274.2,175.6 L274.9,175.7 L275.7,175.9 L276.4,176.0 L277.2,176.1 L278.0,176.3 L278.7,176.4 L279.5,176.6 L280.2,176.7 L281.0,176.8 L281.7,177.0 L282.5,177.1 L283.2,177.2 L284.0,177.3 L284.7,177.4 L285.5,177.5 L286.3,177.6 L287.0,177.7 L287.8,177.8 L288.5,177.9 L289.3,178.0 L290.0,178.1 L290.8,178.2 L291.5,178.3 L292.3,178.4 L293.0,178.5 L293.8,178.6 L294.5,178.7 L295.3,178.8 L296.0,178.9 L296.8,179.0 L297.5,179.1 L298.3,179.2 L299.1,179.2 L299.8,179.3 L300.6,179.4 L301.3,179.5 L302.1,179.6 L302.8,179.7 L303.6,179.7 L304.3,179.8 L305.1,179.9 L305.8,180.0 L306.6,180.1 L307.3,180.1 L308.1,180.2 L308.8,180.3 L309.6,180.3 L310.3,180.4 L311.1,180.5 L311.9,180.6 L312.6,180.6 L313.4,180.7 L314.1,180.8 L314.9,180.8 L315.6,180.9 L316.4,180.9 L317.1,181.0 L317.9,181.1 L318.6,181.1 L319.4,181.2 L320.1,181.2 L320.9,181.3 L321.6,181.4 L322.4,181.4 L323.1,181.5 L323.9,181.5 L324.6,181.6 L325.4,181.7 L326.2,181.7 L326.9,181.8 L327.7,181.8 L328.4,181.9 L329.2,181.9 L329.9,182.0 L330.7,182.0 L331.4,182.1 L332.2,182.1 L332.9,182.2 L333.7,182.2 L334.4,182.3 L335.2,182.3 L335.9,182.4 L336.7,182.4 L337.4,182.4 L338.2,182.5 L338.9,182.5 L339.7,182.6 L340.5,182.6 L341.2,182.6 L342.0,182.7 L342.7,182.7 L343.5,182.7 L343.5,181.3 L342.8,181.2 L342.0,181.2 L341.3,181.1 L340.5,181.1 L339.8,181.1 L339.0,181.0 L338.3,181.0 L337.5,180.9 L336.8,180.9 L336.0,180.9 L335.3,180.8 L334.5,180.8 L333.8,180.7 L333.0,180.7 L332.3,180.6 L331.5,180.6 L330.8,180.5 L330.0,180.5 L329.3,180.4 L328.5,180.4 L327.8,180.3 L327.0,180.3 L326.3,180.2 L325.5,180.2 L324.8,180.1 L324.0,180.0 L323.3,180.0 L322.5,179.9 L321.8,179.9 L321.0,179.8 L320.3,179.8 L319.5,179.7 L318.7,179.6 L318.0,179.6 L317.2,179.5 L316.5,179.4 L315.7,179.4 L315.0,179.3 L314.2,179.3 L313.5,179.2 L312.7,179.1 L312.0,179.1 L311.2,179.0 L310.5,178.9 L309.7,178.9 L309.0,178.8 L308.2,178.7 L307.5,178.6 L306.7,178.6 L306.0,178.5 L305.2,178.4 L304.5,178.3 L303.7,178.2 L303.0,178.2 L302.2,178.1 L301.5,178.0 L300.7,177.9 L300.0,177.8 L299.2,177.8 L298.5,177.7 L297.7,177.6 L297.0,177.5 L296.2,177.4 L295.5,177.3 L294.7,177.2 L294.0,177.1 L293.2,177.0 L292.5,176.9 L291.7,176.8 L291.0,176.7 L290.2,176.6 L289.5,176.6 L288.7,176.5 L288.0,176.4 L287.2,176.2 L286.5,176.1 L285.7,176.0 L285.0,175.9 L284.2,175.8 L283.5,175.7 L282.7,175.6 L282.0,175.5 L281.2,175.3 L280.5,175.2 L279.7,175.1 L279.0,175.0 L278.2,174.8 L277.5,174.7 L276.7,174.5 L276.0,174.4 L275.2,174.3 L274.5,174.1 L273.7,174.0 L273.0,173.8 L272.2,173.7 L271.5,173.5 L270.7,173.4 L269.9,173.3 L269.2,173.1 L268.4,173.0 L267.7,172.9 L266.9,172.8 L266.2,172.6 L265.4,172.5 L264.7,172.4 L263.9,172.3 L263.2,172.2 L262.4,172.0 L261.7,171.9 L260.9,171.8 L260.2,171.7 L259.4,171.6 L258.7,171.5 L257.9,171.4 L257.1,171.2 L256.4,171.1 L255.6,171.0 L254.9,170.9 L254.1,170.8 L253.4,170.7 L252.6,170.5 L251.9,170.4 L251.1,170.3 L250.4,170.2 L249.6,170.1 L248.9,169.9 L248.1,169.8 L247.4,169.7 L246.6,169.6 L245.9,169.4 L245.1,169.3 L244.4,169.2 L243.6,169.1 L242.9,168.9 L242.1,168.8 L241.4,168.7 L240.6,168.5 L239.9,168.4 L239.1,168.3 L238.4,168.1 L237.6,168.0 L236.9,167.9 L236.1,167.7 L235.4,167.6 L234.6,167.5 L233.9,167.3 L233.1,167.2 L232.4,167.0 L231.6,166.9 L230.9,166.8 L230.1,166.6 L229.4,166.5 L228.6,166.3 L227.9,166.2 L227.1,166.0 L226.4,165.9 L225.6,165.7 L224.9,165.5 L224.1,165.4 L223.4,165.2 L222.6,165.0 L221.9,164.9 L221.1,164.7 L220.3,164.6 L219.6,164.4 L218.8,164.3 L218.1,164.1 L217.3,164.0 L216.6,163.9 L215.8,163.7 L215.1,163.6 L214.3,163.4 L213.6,163.3 L212.8,163.1 L212.1,163.0 L211.3,162.8 L210.6,162.6 L209.8,162.5 L209.1,162.3 L208.4,162.1 L207.6,161.9 L206.9,161.7 L206.1,161.5 L205.4,161.3 L204.6,161.2 L203.9,161.0 L203.1,160.8 L202.4,160.6 L201.6,160.4 L200.9,160.2 L200.1,160.0 L199.4,159.8 L198.6,159.6 L197.9,159.4 L197.1,159.1 L196.4,158.9 L195.6,158.7 L194.9,158.5 L194.1,158.3 L193.4,158.1 L192.6,157.9 L191.9,157.7 L191.1,157.4 L190.3,157.2 L189.6,157.0 L188.8,156.8 L188.1,156.6 L187.3,156.4 L186.6,156.2 L185.8,155.9 L185.1,155.7 L184.3,155.5 L183.6,155.3 L182.8,155.1 L182.1,154.9 L181.3,154.7 L180.6,154.4 L179.8,154.2 L179.1,154.0 L178.3,153.8 L177.6,153.6 L176.8,153.4 L176.1,153.1 L175.3,152.9 L174.6,152.7 L173.8,152.5 L173.1,152.3 L172.3,152.1 L171.5,151.9 L170.8,151.7 L170.0,151.5 L169.3,151.3 L168.5,151.1 L167.8,150.9 L167.0,150.8 L166.3,150.6 L165.5,150.4 L164.8,150.2 L164.0,150.0 L163.3,149.8 L162.5,149.6 L161.8,149.4 L161.1,149.2 L160.3,149.0 L159.6,148.7 L158.8,148.5 L158.1,148.2 L157.3,148.0 L156.6,147.7 L155.8,147.4 L155.1,147.2 L154.3,146.9 L153.6,146.6 L152.8,146.3 L152.1,146.0 L151.3,145.7 L150.6,145.4 L149.8,145.2 L149.1,144.9 L148.3,144.6 L147.6,144.3 L146.9,144.0 L146.1,143.7 L145.4,143.4 L144.6,143.1 L143.9,142.7 L143.1,142.4 L142.4,142.1 L141.6,141.8 L140.9,141.5 L140.1,141.1 L139.4,140.8 L138.6,140.5 L137.9,140.1 L137.1,139.8 L136.4,139.4 L135.6,139.1 L134.9,138.7 L134.1,138.4 L133.4,138.0 L132.6,137.6 L131.9,137.3 L131.1,136.9 L130.4,136.5 L129.7,136.1 L128.9,135.7 L128.2,135.3 L127.4,134.9 L126.7,134.5 L125.9,134.0 L125.2,133.6 L124.5,133.2 L123.7,132.7 L123.0,132.2 L122.2,131.7 L121.5,131.2 L120.7,130.7 L120.0,130.2 L119.2,129.6 L118.5,129.1 L117.7,128.6 L117.0,128.1 L116.2,127.6 L115.5,127.1 L114.7,126.5 L114.0,126.0 L113.2,125.5 L112.5,125.0 L111.7,124.5 L110.9,124.0 L110.2,123.5 L109.4,123.0 L108.7,122.5 L108.0,122.0 L107.2,121.4 L106.5,120.9 L105.7,120.4 L105.0,119.8 L104.2,119.3 L103.5,118.7 L102.7,118.2 L102.0,117.6 L101.2,117.0 L100.5,116.4 L99.7,115.8 L99.0,115.2 L98.2,114.6 L97.5,114.0 L96.7,113.3 L96.0,112.7 L95.3,112.0 L94.5,111.4 L93.8,110.7 L93.0,110.0 L92.3,109.3 L91.5,108.6 L90.8,107.9 L90.0,107.1 L89.3,106.3 L88.6,105.5 L87.8,104.7 L87.1,103.9 L86.3,103.0 L85.6,102.2 L84.8,101.3 L84.1,100.4 L83.3,99.5 L82.6,98.6 L81.8,97.7 L81.1,96.8 L80.3,95.8 L79.6,94.8 L78.8,93.9 L78.1,92.9 L77.3,91.9 L76.6,90.9 L75.8,89.9 L75.1,88.8 L74.3,87.8 L73.6,86.8 L72.8,85.7 L72.0,84.7 L71.3,83.6 L70.5,82.5 L69.8,81.5 L69.0,80.4 L68.3,79.4 L67.5,78.3 L66.8,77.2 L66.0,76.1 L65.3,74.9 L64.5,73.7 L63.8,72.5 L63.0,71.3 L62.3,70.1 L61.5,68.9 L60.8,67.6 L60.0,66.2 L59.3,64.9 L58.5,63.4 L57.8,61.9 L57.0,60.2 L56.3,58.4 L55.5,56.7 L54.7,54.9 L54.0,53.0 L53.2,51.3 L52.4,49.7 L51.7,48.4 L50.9,47.1 L50.1,45.9 L49.4,44.9 L48.7,43.9 L48.0,42.4 L47.2,40.4 L46.4,38.6 L45.7,37.3 L45.0,35.6 L44.2,30.9 Z" fill="#b1494f"/>
<path d="M42.6,18.7 L43.3,22.5 L44.1,26.0 L44.8,29.0 L45.6,31.5 L46.4,33.8 L47.1,35.9 L47.9,37.9 L48.6,39.8 L49.4,41.5 L50.1,43.3 L50.9,45.0 L51.6,46.9 L52.4,48.9 L53.1,50.9 L53.8,52.8 L54.6,54.7 L55.3,56.5 L56.1,58.2 L56.9,59.8 L57.6,61.3 L58.4,62.7 L59.1,64.1 L59.9,65.4 L60.6,66.7 L61.4,67.9 L62.1,69.1 L62.9,70.3 L63.6,71.5 L64.4,72.6 L65.1,73.7 L65.9,74.8 L66.6,75.8 L67.4,76.9 L68.1,77.9 L68.9,78.9 L69.6,79.9 L70.4,81.0 L71.1,82.0 L71.8,83.0 L72.6,84.1 L73.3,85.1 L74.1,86.1 L74.8,87.1 L75.6,88.1 L76.3,89.1 L77.1,90.0 L77.8,91.0 L78.6,91.9 L79.3,92.8 L80.1,93.7 L80.9,94.6 L81.6,95.5 L82.4,96.3 L83.1,97.2 L83.9,98.0 L84.6,98.8 L85.4,99.5 L86.2,100.2 L87.0,101.0 L87.7,101.6 L88.5,102.3 L89.3,103.0 L90.0,103.6 L90.8,104.2 L91.5,104.8 L92.3,105.4 L93.1,105.9 L93.8,106.5 L94.6,107.0 L95.4,107.6 L96.1,108.1 L96.9,108.6 L97.6,109.1 L98.4,109.6 L99.1,110.2 L99.9,110.7 L100.6,111.2 L101.4,111.7 L102.2,112.2 L102.9,112.7 L103.7,113.1 L104.4,113.6 L105.2,114.1 L105.9,114.6 L106.7,115.1 L107.5,115.5 L108.2,116.0 L109.0,116.5 L109.7,116.9 L110.5,117.4 L111.3,117.8 L112.0,118.2 L112.8,118.6 L113.5,119.0 L114.3,119.4 L115.0,119.8 L115.8,120.2 L116.5,120.6 L117.3,121.0 L118.0,121.4 L118.8,121.9 L119.5,122.3 L120.3,122.7 L121.0,123.2 L121.8,123.6 L122.5,124.1 L123.3,124.5 L124.0,125.0 L124.8,125.4 L125.5,125.9 L126.3,126.3 L127.0,126.7 L127.8,127.2 L128.5,127.6 L129.3,128.0 L130.1,128.5 L130.8,128.9 L131.6,129.3 L132.3,129.7 L133.1,130.2 L133.8,130.6 L134.6,131.0 L135.3,131.4 L136.1,131.8 L136.9,132.2 L137.6,132.6 L138.4,132.9 L139.1,133.3 L139.9,133.7 L140.6,134.1 L141.4,134.4 L142.2,134.8 L142.9,135.2 L143.7,135.5 L144.4,135.9 L145.2,136.3 L145.9,136.7 L146.7,137.0 L147.4,137.4 L148.2,137.8 L148.9,138.2 L149.7,138.5 L150.4,138.9 L151.2,139.3 L151.9,139.7 L152.7,140.1 L153.4,140.4 L154.2,140.8 L154.9,141.2 L155.7,141.6 L156.4,141.9 L157.2,142.3 L157.9,142.7 L158.7,143.1 L159.4,143.5 L160.2,143.9 L160.9,144.3 L161.7,144.7 L162.4,145.1 L163.2,145.5 L163.9,145.9 L164.7,146.3 L165.4,146.7 L166.2,147.1 L166.9,147.5 L167.7,147.9 L168.4,148.3 L169.2,148.7 L169.9,149.1 L170.7,149.6 L171.4,150.0 L172.2,150.4 L172.9,150.8 L173.7,151.3 L174.4,151.7 L175.2,152.1 L175.9,152.6 L176.7,153.0 L177.4,153.5 L178.2,153.9 L178.9,154.4 L179.7,154.8 L180.4,155.3 L181.2,155.8 L181.9,156.2 L182.7,156.7 L183.4,157.2 L184.2,157.7 L184.9,158.2 L185.6,158.7 L186.4,159.2 L187.1,159.7 L187.9,160.2 L188.7,160.7 L189.4,161.2 L190.2,161.7 L190.9,162.3 L191.7,162.8 L192.4,163.3 L193.2,163.8 L193.9,164.3 L194.7,164.8 L195.4,165.4 L196.2,165.9 L197.0,166.4 L197.7,166.9 L198.5,167.4 L199.2,167.9 L200.0,168.4 L200.7,168.9 L201.5,169.4 L202.2,169.9 L203.0,170.4 L203.7,170.9 L204.5,171.4 L205.3,171.9 L206.0,172.4 L206.8,172.9 L207.5,173.4 L208.3,173.8 L209.1,174.3 L209.8,174.7 L210.6,175.2 L211.4,175.6 L212.1,176.0 L212.9,176.4 L213.7,176.8 L214.4,177.2 L215.2,177.6 L215.9,177.9 L216.7,178.3 L217.5,178.7 L218.2,179.0 L219.0,179.4 L219.7,179.7 L220.5,180.1 L221.2,180.4 L222.0,180.8 L222.7,181.2 L223.5,181.5 L224.2,181.9 L225.0,182.2 L225.8,182.6 L226.5,182.9 L227.3,183.2 L228.0,183.6 L228.8,183.9 L229.5,184.3 L230.3,184.6 L231.0,185.0 L231.8,185.3 L232.5,185.6 L233.3,186.0 L234.1,186.3 L234.8,186.7 L235.6,187.0 L236.3,187.3 L237.1,187.6 L237.9,187.9 L238.6,188.3 L239.4,188.5 L240.1,188.8 L240.9,189.1 L241.7,189.4 L242.4,189.6 L243.2,189.9 L243.9,190.1 L244.7,190.4 L245.4,190.6 L246.2,190.9 L246.9,191.1 L247.7,191.4 L248.4,191.7 L249.2,191.9 L249.9,192.2 L250.7,192.5 L251.4,192.8 L252.2,193.1 L252.9,193.4 L253.7,193.7 L254.4,194.0 L255.2,194.2 L255.9,194.5 L256.7,194.8 L257.4,195.1 L258.2,195.4 L258.9,195.7 L259.7,196.0 L260.4,196.3 L261.2,196.6 L262.0,196.8 L262.7,197.1 L263.5,197.3 L264.3,197.6 L265.0,197.8 L265.8,198.0 L266.6,198.2 L267.3,198.4 L268.1,198.6 L268.8,198.8 L269.6,198.9 L270.4,199.1 L271.1,199.3 L271.9,199.4 L272.6,199.6 L273.4,199.7 L274.1,199.8 L274.9,200.0 L275.7,200.1 L276.4,200.2 L277.2,200.4 L277.9,200.5 L278.7,200.6 L279.4,200.7 L280.2,200.9 L281.0,201.0 L281.7,201.1 L282.5,201.2 L283.2,201.3 L284.0,201.4 L284.7,201.5 L285.5,201.6 L286.2,201.7 L287.0,201.8 L287.7,201.9 L288.5,202.0 L289.2,202.1 L290.0,202.2 L290.7,202.3 L291.5,202.4 L292.2,202.5 L293.0,202.6 L293.7,202.7 L294.5,202.8 L295.2,202.9 L296.0,203.1 L296.7,203.2 L297.5,203.3 L298.2,203.5 L298.9,203.6 L299.7,203.8 L300.4,203.9 L301.2,204.1 L302.0,204.2 L302.7,204.4 L303.5,204.5 L304.2,204.6 L305.0,204.8 L305.8,204.9 L306.5,205.0 L307.3,205.1 L308.1,205.1 L308.9,205.2 L309.6,205.2 L310.4,205.2 L311.2,205.2 L311.9,205.2 L312.7,205.2 L313.4,205.2 L314.2,205.2 L314.9,205.2 L315.7,205.2 L316.4,205.2 L317.2,205.2 L317.9,205.2 L318.7,205.2 L319.4,205.2 L320.2,205.2 L320.9,205.2 L321.7,205.2 L322.4,205.2 L323.2,205.2 L324.0,205.2 L324.7,205.2 L325.5,205.2 L326.2,205.2 L327.0,205.2 L327.7,205.2 L328.5,205.2 L329.3,205.2 L330.0,205.1 L330.8,205.1 L331.5,205.0 L332.3,205.0 L333.1,204.9 L333.8,204.8 L334.6,204.7 L335.4,204.6 L336.1,204.5 L336.9,204.4 L337.6,204.3 L338.4,204.2 L339.1,204.1 L339.9,204.0 L340.6,203.9 L341.4,203.8 L342.2,203.6 L342.9,203.5 L343.7,203.4 L343.3,201.4 L342.6,201.5 L341.8,201.7 L341.1,201.8 L340.3,201.9 L339.6,202.0 L338.8,202.1 L338.1,202.2 L337.3,202.3 L336.6,202.5 L335.9,202.6 L335.1,202.6 L334.4,202.7 L333.6,202.8 L332.9,202.9 L332.1,203.0 L331.4,203.0 L330.7,203.1 L329.9,203.1 L329.2,203.2 L328.4,203.2 L327.7,203.2 L327.0,203.2 L326.2,203.2 L325.5,203.2 L324.7,203.2 L324.0,203.2 L323.2,203.2 L322.4,203.2 L321.7,203.2 L320.9,203.2 L320.2,203.2 L319.4,203.2 L318.7,203.2 L317.9,203.2 L317.2,203.2 L316.4,203.2 L315.7,203.2 L314.9,203.2 L314.2,203.2 L313.4,203.2 L312.7,203.2 L311.9,203.2 L311.2,203.2 L310.4,203.2 L309.7,203.2 L309.0,203.2 L308.2,203.1 L307.5,203.1 L306.8,203.0 L306.0,202.9 L305.3,202.8 L304.6,202.7 L303.8,202.5 L303.1,202.4 L302.3,202.3 L301.6,202.1 L300.8,202.0 L300.1,201.8 L299.3,201.7 L298.6,201.5 L297.8,201.4 L297.1,201.2 L296.3,201.1 L295.5,201.0 L294.8,200.9 L294.0,200.7 L293.3,200.6 L292.5,200.5 L291.8,200.4 L291.0,200.3 L290.3,200.2 L289.5,200.1 L288.8,200.0 L288.0,199.9 L287.2,199.8 L286.5,199.7 L285.7,199.6 L285.0,199.5 L284.2,199.4 L283.5,199.3 L282.7,199.2 L282.0,199.1 L281.2,199.0 L280.5,198.9 L279.7,198.8 L279.0,198.6 L278.2,198.5 L277.5,198.4 L276.8,198.3 L276.0,198.1 L275.3,198.0 L274.5,197.9 L273.8,197.7 L273.0,197.6 L272.3,197.5 L271.5,197.3 L270.8,197.1 L270.0,197.0 L269.3,196.8 L268.5,196.6 L267.8,196.5 L267.1,196.3 L266.3,196.1 L265.6,195.9 L264.8,195.7 L264.1,195.4 L263.4,195.2 L262.6,194.9 L261.9,194.7 L261.1,194.4 L260.4,194.1 L259.6,193.8 L258.9,193.5 L258.1,193.2 L257.4,192.9 L256.6,192.7 L255.9,192.4 L255.1,192.1 L254.4,191.8 L253.6,191.5 L252.9,191.2 L252.1,190.9 L251.4,190.6 L250.6,190.3 L249.9,190.0 L249.1,189.8 L248.3,189.5 L247.6,189.2 L246.8,189.0 L246.1,188.7 L245.3,188.5 L244.6,188.2 L243.8,188.0 L243.1,187.7 L242.3,187.5 L241.6,187.2 L240.8,187.0 L240.1,186.7 L239.4,186.4 L238.6,186.1 L237.9,185.8 L237.1,185.5 L236.4,185.1 L235.6,184.8 L234.9,184.5 L234.2,184.1 L233.4,183.8 L232.7,183.4 L231.9,183.1 L231.2,182.7 L230.4,182.4 L229.7,182.0 L228.9,181.7 L228.2,181.3 L227.4,181.0 L226.7,180.6 L225.9,180.3 L225.2,179.9 L224.4,179.6 L223.7,179.2 L222.9,178.8 L222.2,178.5 L221.4,178.1 L220.7,177.8 L219.9,177.4 L219.2,177.0 L218.4,176.7 L217.7,176.3 L216.9,175.9 L216.2,175.6 L215.4,175.2 L214.7,174.8 L214.0,174.4 L213.2,174.0 L212.5,173.6 L211.7,173.2 L211.0,172.8 L210.3,172.3 L209.5,171.9 L208.8,171.4 L208.0,170.9 L207.3,170.5 L206.5,170.0 L205.8,169.5 L205.1,169.0 L204.3,168.5 L203.6,168.0 L202.8,167.4 L202.1,166.9 L201.3,166.4 L200.6,165.9 L199.8,165.4 L199.1,164.9 L198.3,164.4 L197.6,163.8 L196.8,163.3 L196.1,162.8 L195.3,162.3 L194.6,161.8 L193.8,161.3 L193.1,160.7 L192.3,160.2 L191.6,159.7 L190.8,159.2 L190.1,158.6 L189.3,158.1 L188.6,157.6 L187.8,157.1 L187.1,156.6 L186.3,156.1 L185.6,155.5 L184.8,155.0 L184.0,154.6 L183.3,154.1 L182.5,153.6 L181.8,153.1 L181.0,152.6 L180.3,152.2 L179.5,151.7 L178.8,151.2 L178.0,150.8 L177.3,150.3 L176.5,149.9 L175.8,149.4 L175.0,149.0 L174.2,148.5 L173.5,148.1 L172.7,147.6 L172.0,147.2 L171.2,146.8 L170.5,146.4 L169.7,145.9 L169.0,145.5 L168.2,145.1 L167.5,144.7 L166.7,144.3 L165.9,143.9 L165.2,143.5 L164.4,143.1 L163.7,142.7 L162.9,142.3 L162.2,141.9 L161.4,141.5 L160.7,141.1 L159.9,140.7 L159.2,140.3 L158.4,139.9 L157.6,139.5 L156.9,139.2 L156.1,138.8 L155.4,138.4 L154.6,138.0 L153.9,137.6 L153.1,137.3 L152.4,136.9 L151.6,136.5 L150.9,136.1 L150.1,135.8 L149.4,135.4 L148.6,135.0 L147.9,134.6 L147.1,134.2 L146.4,133.9 L145.6,133.5 L144.8,133.1 L144.1,132.8 L143.3,132.4 L142.6,132.0 L141.8,131.7 L141.1,131.3 L140.3,130.9 L139.6,130.5 L138.8,130.2 L138.1,129.8 L137.4,129.4 L136.6,129.0 L135.9,128.6 L135.1,128.2 L134.4,127.8 L133.6,127.4 L132.9,127.0 L132.1,126.5 L131.4,126.1 L130.6,125.7 L129.9,125.3 L129.1,124.8 L128.4,124.4 L127.6,124.0 L126.9,123.5 L126.1,123.1 L125.4,122.6 L124.6,122.2 L123.9,121.7 L123.1,121.3 L122.4,120.8 L121.6,120.4 L120.9,119.9 L120.1,119.5 L119.3,119.1 L118.6,118.7 L117.8,118.3 L117.1,117.8 L116.3,117.4 L115.6,117.0 L114.8,116.6 L114.1,116.2 L113.3,115.8 L112.6,115.4 L111.8,115.0 L111.1,114.6 L110.4,114.1 L109.6,113.7 L108.9,113.2 L108.1,112.8 L107.4,112.3 L106.6,111.8 L105.9,111.4 L105.1,110.9 L104.4,110.4 L103.6,109.9 L102.9,109.4 L102.1,108.9 L101.4,108.4 L100.6,107.9 L99.9,107.4 L99.1,106.9 L98.4,106.4 L97.7,105.9 L96.9,105.4 L96.2,104.8 L95.4,104.3 L94.7,103.8 L93.9,103.2 L93.2,102.6 L92.5,102.1 L91.7,101.5 L91.0,100.9 L90.2,100.3 L89.5,99.6 L88.8,99.0 L88.0,98.3 L87.3,97.6 L86.6,96.9 L85.8,96.1 L85.1,95.3 L84.3,94.5 L83.6,93.7 L82.8,92.9 L82.1,92.0 L81.3,91.1 L80.6,90.2 L79.8,89.3 L79.1,88.4 L78.3,87.5 L77.6,86.6 L76.8,85.6 L76.1,84.6 L75.3,83.6 L74.6,82.6 L73.8,81.6 L73.0,80.6 L72.3,79.6 L71.5,78.5 L70.8,77.5 L70.0,76.5 L69.2,75.5 L68.5,74.5 L67.7,73.5 L67.0,72.4 L66.2,71.3 L65.5,70.2 L64.7,69.1 L64.0,67.9 L63.2,66.7 L62.5,65.5 L61.7,64.3 L61.0,63.0 L60.2,61.7 L59.5,60.3 L58.7,58.9 L58.0,57.4 L57.2,55.7 L56.5,53.9 L55.7,52.1 L55.0,50.2 L54.2,48.2 L53.4,46.2 L52.7,44.3 L51.9,42.5 L51.1,40.8 L50.4,39.0 L49.6,37.2 L48.9,35.2 L48.2,33.2 L47.4,31.0 L46.7,28.5 L45.9,25.6 L45.2,22.1 L44.4,18.3 Z" fill="#4caf50"/>
</g>
<rect x="43.2" y="10.6" width="299.30" height="209.10" fill="none" stroke="#000" stroke-width="2"/>
<path d="M43.20,219.7 v-4.3 M43.20,10.6 v4.3 M49.36,219.7 v-2.4 M49.36,10.6 v2.4 M55.53,219.7 v-2.4 M55.53,10.6 v2.4 M61.69,219.7 v-2.4 M61.69,10.6 v2.4 M67.86,219.7 v-2.4 M67.86,10.6 v2.4 M74.02,219.7 v-4.3 M74.02,10.6 v4.3 M80.18,219.7 v-2.4 M80.18,10.6 v2.4 M86.35,219.7 v-2.4 M86.35,10.6 v2.4 M92.51,219.7 v-2.4 M92.51,10.6 v2.4 M98.68,219.7 v-2.4 M98.68,10.6 v2.4 M104.84,219.7 v-4.3 M104.84,10.6 v4.3 M111.00,219.7 v-2.4 M111.00,10.6 v2.4 M117.17,219.7 v-2.4 M117.17,10.6 v2.4 M123.33,219.7 v-2.4 M123.33,10.6 v2.4 M129.50,219.7 v-2.4 M129.50,10.6 v2.4 M135.66,219.7 v-4.3 M135.66,10.6 v4.3 M141.82,219.7 v-2.4 M141.82,10.6 v2.4 M147.99,219.7 v-2.4 M147.99,10.6 v2.4 M154.15,219.7 v-2.4 M154.15,10.6 v2.4 M160.32,219.7 v-2.4 M160.32,10.6 v2.4 M166.48,219.7 v-4.3 M166.48,10.6 v4.3 M172.64,219.7 v-2.4 M172.64,10.6 v2.4 M178.81,219.7 v-2.4 M178.81,10.6 v2.4 M184.97,219.7 v-2.4 M184.97,10.6 v2.4 M191.14,219.7 v-2.4 M191.14,10.6 v2.4 M197.30,219.7 v-4.3 M197.30,10.6 v4.3 M203.46,219.7 v-2.4 M203.46,10.6 v2.4 M209.63,219.7 v-2.4 M209.63,10.6 v2.4 M215.79,219.7 v-2.4 M215.79,10.6 v2.4 M221.96,219.7 v-2.4 M221.96,10.6 v2.4 M228.12,219.7 v-4.3 M228.12,10.6 v4.3 M234.28,219.7 v-2.4 M234.28,10.6 v2.4 M240.45,219.7 v-2.4 M240.45,10.6 v2.4 M246.61,219.7 v-2.4 M246.61,10.6 v2.4 M252.78,219.7 v-2.4 M252.78,10.6 v2.4 M258.94,219.7 v-4.3 M258.94,10.6 v4.3 M265.10,219.7 v-2.4 M265.10,10.6 v2.4 M271.27,219.7 v-2.4 M271.27,10.6 v2.4 M277.43,219.7 v-2.4 M277.43,10.6 v2.4 M283.60,219.7 v-2.4 M283.60,10.6 v2.4 M289.76,219.7 v-4.3 M289.76,10.6 v4.3 M295.92,219.7 v-2.4 M295.92,10.6 v2.4 M302.09,219.7 v-2.4 M302.09,10.6 v2.4 M308.25,219.7 v-2.4 M308.25,10.6 v2.4 M314.42,219.7 v-2.4 M314.42,10.6 v2.4 M320.58,219.7 v-4.3 M320.58,10.6 v4.3 M326.74,219.7 v-2.4 M326.74,10.6 v2.4 M332.91,219.7 v-2.4 M332.91,10.6 v2.4 M339.07,219.7 v-2.4 M339.07,10.6 v2.4 M43.20,219.70 h4.3 M342.5,219.70 h-4.3 M43.20,211.33 h2.4 M342.5,211.33 h-2.4 M43.20,202.96 h2.4 M342.5,202.96 h-2.4 M43.20,194.60 h2.4 M342.5,194.60 h-2.4 M43.20,186.23 h2.4 M342.5,186.23 h-2.4 M43.20,177.86 h4.3 M342.5,177.86 h-4.3 M43.20,169.49 h2.4 M342.5,169.49 h-2.4 M43.20,161.12 h2.4 M342.5,161.12 h-2.4 M43.20,152.76 h2.4 M342.5,152.76 h-2.4 M43.20,144.39 h2.4 M342.5,144.39 h-2.4 M43.20,136.02 h4.3 M342.5,136.02 h-4.3 M43.20,127.65 h2.4 M342.5,127.65 h-2.4 M43.20,119.28 h2.4 M342.5,119.28 h-2.4 M43.20,110.92 h2.4 M342.5,110.92 h-2.4 M43.20,102.55 h2.4 M342.5,102.55 h-2.4 M43.20,94.18 h4.3 M342.5,94.18 h-4.3 M43.20,85.81 h2.4 M342.5,85.81 h-2.4 M43.20,77.44 h2.4 M342.5,77.44 h-2.4 M43.20,69.08 h2.4 M342.5,69.08 h-2.4 M43.20,60.71 h2.4 M342.5,60.71 h-2.4 M43.20,52.34 h4.3 M342.5,52.34 h-4.3 M43.20,43.97 h2.4 M342.5,43.97 h-2.4 M43.20,35.60 h2.4 M342.5,35.60 h-2.4 M43.20,27.24 h2.4 M342.5,27.24 h-2.4 M43.20,18.87 h2.4 M342.5,18.87 h-2.4 M43.20,10.50 h4.3 M342.5,10.50 h-4.3" stroke="#000" stroke-width="1" fill="none"/>
<g style="font-family:'Liberation Serif',serif" font-size="14px" fill="#000">
<text x="42.60" y="235.3" text-anchor="middle">0.0</text>
<text x="73.42" y="235.3" text-anchor="middle">0.1</text>
<text x="104.24" y="235.3" text-anchor="middle">0.2</text>
<text x="135.06" y="235.3" text-anchor="middle">0.3</text>
<text x="165.88" y="235.3" text-anchor="middle">0.4</text>
<text x="196.70" y="235.3" text-anchor="middle">0.5</text>
<text x="227.52" y="235.3" text-anchor="middle">0.6</text>
<text x="258.34" y="235.3" text-anchor="middle">0.7</text>
<text x="289.16" y="235.3" text-anchor="middle">0.8</text>
<text x="319.98" y="235.3" text-anchor="middle">0.9</text>
<text x="38.2" y="224.70" text-anchor="end">0.0</text>
<text x="38.2" y="182.86" text-anchor="end">0.2</text>
<text x="38.2" y="141.02" text-anchor="end">0.4</text>
<text x="38.2" y="99.18" text-anchor="end">0.6</text>
<text x="38.2" y="57.34" text-anchor="end">0.8</text>
<text x="38.2" y="15.50" text-anchor="end">1.0</text>
<text x="193" y="246" text-anchor="middle">x</text>
<text transform="translate(15.3,113.8) rotate(-90)" text-anchor="middle">Flavor Ratio</text>
<text x="81" y="30.4" font-size="13.93px">d(x,Q)/u(x,Q) at Q =10.0 GeV 90%C.L.</text>
</g>
<g style="font-family:'Liberation Serif',serif" font-size="13.8px" fill="#000">
<text x="159" y="45.00">CT18</text>
<text x="159" y="58.80">CT14HERA2NNLO</text>
<text x="159" y="72.60">CJ15nlo</text>
</g>
<rect x="134.5" y="37.2" width="20.3" height="7.4" fill="#fff" stroke="#c8e7f8" stroke-width="0.9"/>
<rect x="134.5" y="51.1" width="20.3" height="7.4" fill="url(#lr)" stroke="#f5a9b6" stroke-width="0.7" stroke-dasharray="1.6,1.1"/>
<rect x="134.5" y="64.9" width="20.3" height="7.4" fill="url(#lg)" stroke="#b2e5b2" stroke-width="0.7" stroke-dasharray="1.0,1.2"/>
</svg>
</body></html>
